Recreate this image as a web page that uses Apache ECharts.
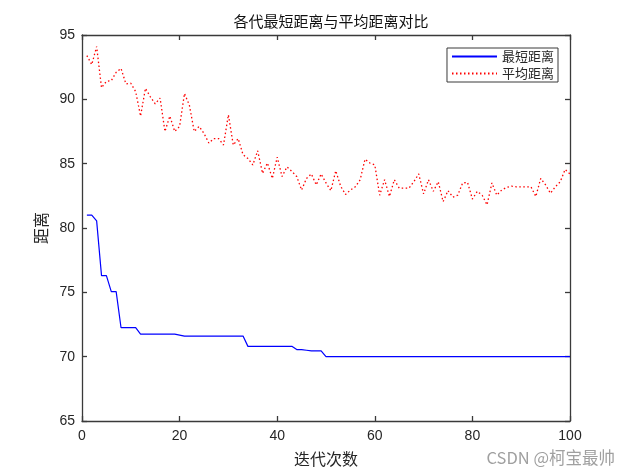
<!DOCTYPE html>
<html>
<head>
<meta charset="utf-8">
<script src="https://cdn.jsdelivr.net/npm/echarts@6/dist/echarts.min.js"></script>
<style>html,body{margin:0;padding:0;background:#fff;}#c{width:630px;height:473px;}</style>
</head>
<body>
<div id="c"></div>
<script>
const iterations = [1,2,3,4,5,6,7,8,9,10,11,12,13,14,15,16,17,18,19,20,21,22,23,24,25,26,27,28,29,30,31,32,33,34,35,36,37,38,39,40,41,42,43,44,45,46,47,48,49,50,51,52,53,54,55,56,57,58,59,60,61,62,63,64,65,66,67,68,69,70,71,72,73,74,75,76,77,78,79,80,81,82,83,84,85,86,87,88,89,90,91,92,93,94,95,96,97,98,99,100];
const bestDist = [81.0,81.0,80.55,76.3,76.3,75.05,75.05,72.25,72.25,72.25,72.25,71.75,71.75,71.75,71.75,71.75,71.75,71.75,71.75,71.68,71.6,71.6,71.6,71.6,71.6,71.6,71.6,71.6,71.6,71.6,71.6,71.6,71.6,70.8,70.8,70.8,70.8,70.8,70.8,70.8,70.8,70.8,70.8,70.55,70.55,70.5,70.45,70.45,70.45,70.0,70.0,70.0,70.0,70.0,70.0,70.0,70.0,70.0,70.0,70.0,70.0,70.0,70.0,70.0,70.0,70.0,70.0,70.0,70.0,70.0,70.0,70.0,70.0,70.0,70.0,70.0,70.0,70.0,70.0,70.0,70.0,70.0,70.0,70.0,70.0,70.0,70.0,70.0,70.0,70.0,70.0,70.0,70.0,70.0,70.0,70.0,70.0,70.0,70.0,70.0];
const avgDist = [93.4,92.7,94.1,90.9,91.4,91.45,92.1,92.4,91.2,91.25,90.6,88.7,90.85,90.2,89.65,90.1,87.5,88.7,87.5,87.9,90.45,89.55,87.5,87.9,87.35,86.6,86.95,86.95,86.45,88.8,86.45,86.95,85.7,85.4,84.9,86.0,84.25,85.05,83.85,85.5,84.0,84.75,84.4,84.0,82.95,83.85,84.2,83.35,84.2,83.5,82.9,84.45,83.25,82.6,82.95,83.2,83.75,85.35,85.05,84.9,82.55,83.75,82.45,83.75,83.1,83.1,83.1,83.6,84.2,82.65,83.75,82.85,83.6,82.05,82.9,82.4,82.55,83.5,83.55,82.25,82.85,82.55,81.8,83.5,82.55,82.95,83.15,83.25,83.2,83.2,83.2,83.2,82.45,83.85,83.35,82.7,83.2,83.6,84.55,84.2];
const xTicks = {min:0, max:100, step:20};
const yTicks = {min:65, max:95, step:5};
const seriesNames = ['最短距离','平均距离'];
const titleText = '各代最短距离与平均距离对比';
const xName = '迭代次数';
const yName = '距离';
const watermark = 'CSDN @柯宝最帅';

const axisColor = '#3a3a3a';
const txtColor = '#262626';
const numFont = 'Liberation Sans, Arial, sans-serif';
const cjkFont = '"Noto Sans CJK SC", sans-serif';

const chart = echarts.init(document.getElementById('c'), null, {renderer:'canvas'});
function xAx(pos, labels){
  return {type:'value', position:pos, min:xTicks.min, max:xTicks.max, interval:xTicks.step,
    axisLine:{show:true, onZero:false, lineStyle:{color:axisColor, width:1.3}},
    axisTick:{show:true, inside:true, length:5, lineStyle:{color:axisColor, width:1.3}},
    axisLabel:{show:labels, color:txtColor, fontSize:14, fontFamily:numFont, margin:8},
    splitLine:{show:false},
    name: labels ? xName : '', nameLocation:'middle', nameGap:30,
    nameTextStyle:{color:txtColor, fontSize:16, fontFamily:cjkFont}};
}
function yAx(pos, labels){
  return {type:'value', position:pos, min:yTicks.min, max:yTicks.max, interval:yTicks.step,
    axisLine:{show:true, onZero:false, lineStyle:{color:axisColor, width:1.3}},
    axisTick:{show:true, inside:true, length:5, lineStyle:{color:axisColor, width:1.3}},
    axisLabel:{show:labels, color:txtColor, fontSize:14, fontFamily:numFont, margin:7},
    splitLine:{show:false},
    name: labels ? yName : '', nameLocation:'middle', nameGap:27, nameRotate:90,
    nameTextStyle:{color:txtColor, fontSize:16, fontFamily:cjkFont}};
}
chart.setOption({
  animation:false,
  backgroundColor:'#fff',
  title:{text:titleText, left:326, top:9, textAlign:'center',
    textStyle:{color:'#111', fontSize:15, fontWeight:'normal', fontFamily:cjkFont}},
  grid:{left:82, right:60, top:35, bottom:52},
  legend:{orient:'vertical', right:72, top:48, data:seriesNames,
    backgroundColor:'#fff', borderColor:axisColor, borderWidth:1, padding:[2,4,2,4],
    itemWidth:45, itemHeight:6, itemGap:4,
    itemStyle:{opacity:0},
    textStyle:{color:txtColor, fontSize:13, fontFamily:cjkFont}},
  xAxis:[xAx('bottom', true), xAx('top', false)],
  yAxis:[yAx('left', true), yAx('right', false)],
  series:[
    {name:seriesNames[0], type:'line', symbol:'none', showSymbol:false,
      data: bestDist.map((v,i)=>[iterations[i], v]),
      lineStyle:{color:'#0000ff', width:1.2}, itemStyle:{color:'#0000ff'}},
    {name:seriesNames[1], type:'line', symbol:'none', showSymbol:false,
      data: avgDist.map((v,i)=>[iterations[i], v]),
      lineStyle:{color:'#ff0000', width:1.3, type:[1.5,2.5]}, itemStyle:{color:'#ff0000'}}
  ],
  graphic:[{type:'text', right:15, bottom:7,
    style:{text:watermark, fill:'#a0a0a0', fontSize:16.5, fontFamily:cjkFont}}]
});
</script>
</body>
</html>
